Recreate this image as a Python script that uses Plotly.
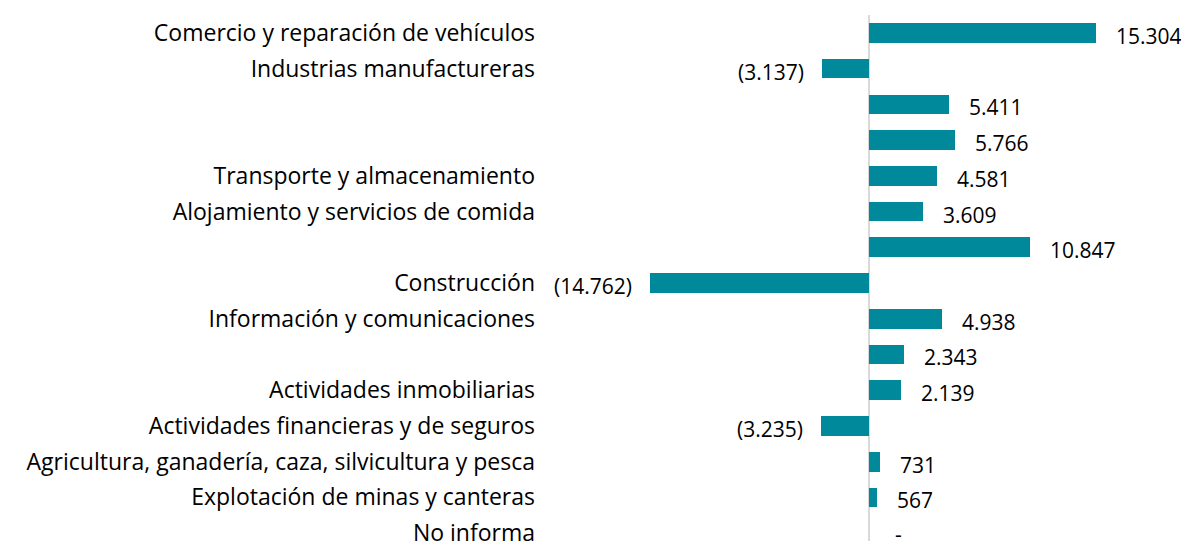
import plotly.graph_objects as go

# Sectores económicos (filas sin etiqueta en el original quedan en blanco)
sectores = [
    "Comercio y reparación de vehículos",
    "Industrias manufactureras",
    "",
    "",
    "Transporte y almacenamiento",
    "Alojamiento y servicios de comida",
    "",
    "Construcción",
    "Información y comunicaciones",
    "",
    "Actividades inmobiliarias",
    "Actividades financieras y de seguros",
    "Agricultura, ganadería, caza, silvicultura y pesca",
    "Explotación de minas y canteras",
    "No informa",
]
variacion = [15304, -3137, 5411, 5766, 4581, 3609, 10847, -14762,
             4938, 2343, 2139, -3235, 731, 567, 0]

BAR_COLOR = "#00899A"
FONT = "Open Sans"


def fmt(v):
    if v == 0:
        return "-"
    s = f"{abs(v):,}".replace(",", ".")
    return f"({s})" if v < 0 else s


pos = list(range(len(sectores)))

fig = go.Figure()
fig.add_trace(go.Bar(
    x=variacion,
    y=pos,
    orientation="h",
    width=0.55,
    marker=dict(color=BAR_COLOR, line=dict(width=0)),
    hoverinfo="skip",
))

# Etiquetas de datos fuera del extremo de cada barra
for i, v in enumerate(variacion):
    fig.add_annotation(
        x=v, y=i,
        text=fmt(v),
        showarrow=False,
        xanchor="right" if v < 0 else "left",
        xshift=-16 if v < 0 else (24 if v == 0 else 18),
        yshift=-3 if v != 0 else -1,
        font=dict(family=FONT, size=21, color="#000000"),
    )

fig.update_xaxes(
    range=[-22180, 21573],
    showgrid=False,
    showticklabels=False,
    zeroline=True,
    zerolinecolor="#d9d9d9",
    zerolinewidth=2,
)
fig.update_yaxes(
    tickvals=pos,
    ticktext=sectores,
    range=[14.22, -0.5],
    showgrid=False,
    zeroline=False,
    ticks="",
    ticklabelstandoff=4,
    ticklabeloverflow="allow",
    tickfont=dict(family=FONT, size=23, color="#000000"),
)

fig.update_layout(
    width=1181,
    height=540,
    margin=dict(l=532, r=0, t=7, b=0),
    plot_bgcolor="white",
    paper_bgcolor="white",
    showlegend=False,
    bargap=0,
)

fig.write_html("out.html")
